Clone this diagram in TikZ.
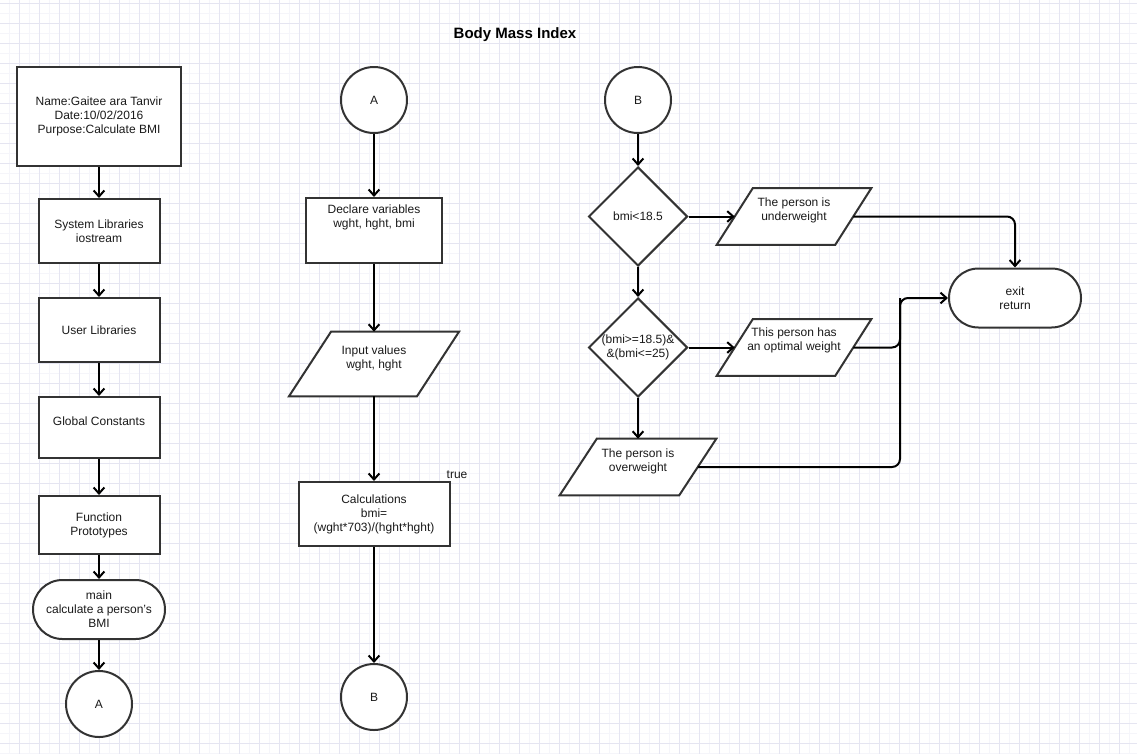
\documentclass[tikz,border=0pt]{standalone}
\usepackage{fontspec}
\setmainfont{Liberation Sans}
\usetikzlibrary{shapes.geometric,shapes.misc,arrows.meta}
\pgfdeclarelayer{gridlayer}
\pgfdeclarelayer{shp}
\pgfsetlayers{gridlayer,shp,main}
\definecolor{edgec}{HTML}{333333}
\definecolor{gridmaj}{RGB}{229,229,241}
\definecolor{gridmin}{RGB}{245,245,250}
\definecolor{txtc}{HTML}{1A1A1A}
\begin{document}
\begin{tikzpicture}[x=0.75pt,y=-0.75pt,
  every node/.style={font=\fontsize{9}{10.5}\selectfont, text=txtc, align=center},
  proc/.style={draw=edgec, line width=1.5pt, fill=white, rectangle, inner sep=0pt},
  term/.style={draw=edgec, line width=1.5pt, fill=white, rounded rectangle, inner sep=0pt},
  conncircle/.style={draw=edgec, line width=1.5pt, fill=white, circle, inner sep=0pt, minimum size=49.5pt},
  decision/.style={draw=edgec, line width=1.5pt, fill=white, diamond, inner sep=0pt, minimum width=74.25pt, minimum height=74.25pt},
  iobox/.style={rectangle, inner sep=0pt},
  paraline/.style={draw=edgec, line width=1.5pt, fill=white, line join=miter},
  conn/.style={draw=black, line width=1.5pt},
  arr/.style={conn, -{Straight Barb[length=4.5pt,width=8pt]}},
  txt/.style={font=\fontsize{9}{10.5}\selectfont, text=txtc, align=center}
]
\useasboundingbox (0,0) rectangle (1137,754);
\begin{pgfonlayer}{gridlayer}
  \fill[white] (0,0) rectangle (1137,754);
  \foreach \x in {9,29,...,1137} \draw[gridmin, line width=0.75pt] (\x,0) -- (\x,754);
  \foreach \y in {13,33,...,754} \draw[gridmin, line width=0.75pt] (0,\y) -- (1137,\y);
  \foreach \x in {19,39,...,1137} \draw[gridmaj, line width=0.75pt] (\x,0) -- (\x,754);
  \foreach \y in {3,23,...,754} \draw[gridmaj, line width=0.75pt] (0,\y) -- (1137,\y);
\end{pgfonlayer}

% title
\node[font=\bfseries\fontsize{11.25}{13}\selectfont, text=black] (title) at (515,35) {Body Mass Index};

% left column
\node[proc, minimum width=123pt, minimum height=74.25pt] (info) at (99,116.5)
  {Name:Gaitee ara Tanvir\\Date:10/02/2016\\Purpose:Calculate BMI};
\node[proc, minimum width=90.75pt, minimum height=48pt] (sys) at (99,231)
  {System Libraries\\iostream};
\node[proc, minimum width=90.75pt, minimum height=48pt] (user) at (99,330) {User Libraries};
\node[proc, minimum width=90.75pt, minimum height=45.75pt,
  label={[txt, yshift=4.5pt]center:Global Constants}] (glob) at (99,427.5) {};
\node[proc, minimum width=90.75pt, minimum height=43.5pt] (func) at (99,525)
  {Function\\Prototypes};
\node[term, minimum width=99pt, minimum height=44.25pt] (main) at (99,609.5)
  {main\\calculate a person's\\BMI};
\node[conncircle] (a1) at (99,704) {A};

\draw[arr] (info.south) -- (sys.north);
\draw[arr] (sys.south) -- (user.north);
\draw[arr] (user.south) -- (glob.north);
\draw[arr] (glob.south) -- (func.north);
\draw[arr] (func.south) -- (main.north);
\draw[arr] (main.south) -- (a1.north);

% middle column
\node[conncircle] (a2) at (374,100) {A};
\node[proc, minimum width=102pt, minimum height=48.75pt,
  label={[txt, yshift=10pt]center:Declare variables\\wght, hght, bmi}] (decl) at (374,230.5) {};
\node[iobox, minimum width=95.6pt, minimum height=48pt,
  label={[txt, yshift=4.5pt]center:Input values\\wght, hght}] (inp) at (374,364) {};
\node[proc, minimum width=113.25pt, minimum height=48pt] (calc) at (374,514)
  {Calculations\\bmi=\\(wght*703)/(hght*hght)};
\node[txt] (truelbl) at (457,475) {true};
\node[conncircle] (b1) at (374,697) {B};

\draw[arr] (a2.south) -- (decl.north);
\draw[arr] (decl.south) -- (inp.north);
\draw[arr] (inp.south) -- (calc.north);
\draw[arr] (calc.south) -- (b1.north);

% right column
\node[conncircle] (b2) at (638,100) {B};
\node[decision] (d1) at (638,216.5) {bmi<18.5};
\node[decision] (d2) at (638,347.5) {(bmi>=18.5)\&\\\&(bmi<=25)};
\node[iobox, minimum width=88.5pt, minimum height=42pt,
  label={[txt, yshift=4.5pt]center:The person is\\underweight}] (under) at (794,216.5) {};
\node[iobox, minimum width=88.5pt, minimum height=42pt,
  label={[txt, yshift=5.25pt]center:This person has\\an optimal weight}] (opt) at (794,347.5) {};
\node[iobox, minimum width=89.25pt, minimum height=42pt,
  label={[txt, yshift=4.5pt]center:The person is\\overweight}] (over) at (638,467) {};
\node[term, minimum width=99pt, minimum height=44.25pt] (exit) at (1015,298) {exit\\return};
\coordinate (join) at (900,298);

\begin{pgfonlayer}{shp}
  \filldraw[paraline] ([xshift=-15.75pt]inp.south west) -- ([xshift=15.75pt]inp.north west)
    -- ([xshift=15.75pt]inp.north east) -- ([xshift=-15.75pt]inp.south east) -- cycle;
  \filldraw[paraline] ([xshift=-13.5pt]under.south west) -- ([xshift=13.5pt]under.north west)
    -- ([xshift=13.5pt]under.north east) -- ([xshift=-13.5pt]under.south east) -- cycle;
  \filldraw[paraline] ([xshift=-13.5pt]opt.south west) -- ([xshift=13.5pt]opt.north west)
    -- ([xshift=13.5pt]opt.north east) -- ([xshift=-13.5pt]opt.south east) -- cycle;
  \filldraw[paraline] ([xshift=-13.9pt]over.south west) -- ([xshift=13.9pt]over.north west)
    -- ([xshift=13.9pt]over.north east) -- ([xshift=-13.9pt]over.south east) -- cycle;
\end{pgfonlayer}

\draw[arr] (b2.south) -- (d1.north);
\draw[arr] (d1.east) -- (under.west);
\draw[arr] (d1.south) -- (d2.north);
\draw[arr] (d2.east) -- (opt.west);
\draw[arr] (d2.south) -- (over.north);
\draw[arr, rounded corners=6pt] (under.east) -| (exit.north);
\draw[arr, rounded corners=6pt] (opt.east) -| (join) -- (exit.west);
\draw[conn, rounded corners=6pt] (over.east) -| (join);
\end{tikzpicture}
\end{document}
